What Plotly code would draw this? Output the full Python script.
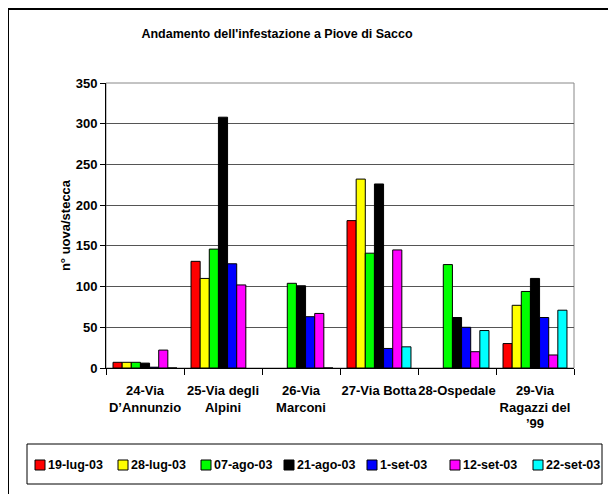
import plotly.graph_objects as go

categories = ["24-Via<br>D’Annunzio", "25-Via degli<br>Alpini", "26-Via<br>Marconi",
              "27-Via Botta", "28-Ospedale", "29-Via<br>Ragazzi del<br>’99"]
series_names = ["19-lug-03", "28-lug-03", "07-ago-03", "21-ago-03", "1-set-03", "12-set-03", "22-set-03"]
v_19lug = [7, 131, None, 181, None, 30]
v_28lug = [7, 110, None, 232, None, 77]
v_07ago = [7, 146, 104, 141, 127, 94]
v_21ago = [6, 308, 101, 226, 62, 110]
v_01set = [1, 128, 63, 24, 50, 62]
v_12set = [22, 102, 67, 145, 20, 16]
v_22set = [0, None, 0, 26, 46, 71]
series_values = [v_19lug, v_28lug, v_07ago, v_21ago, v_01set, v_12set, v_22set]
colors = ["#ff0000", "#ffff00", "#00ff00", "#000000", "#0000ff", "#ff00ff", "#00ffff"]

fig = go.Figure()
for name, vals, col in zip(series_names, series_values, colors):
    fig.add_trace(go.Bar(x=categories, y=vals, name=name, showlegend=False,
                         marker=dict(color=col, line=dict(color="#000000", width=1))))

# the page body adds an 8px offset, so the figure is 8px smaller than the window
W, H = 608, 486
L, R, T, B = 98, 42, 75, 126
pw, ph = W - L - R, H - T - B

def px_x(p):
    return (p - L) / pw

def px_y(p):
    return (H - B - p) / ph

shapes = [dict(type="rect", xref="paper", yref="paper",
               x0=px_x(0), x1=px_x(640), y0=px_y(1), y1=px_y(520),
               line=dict(color="black", width=2), fillcolor="rgba(0,0,0,0)", layer="below"),
          dict(type="rect", xref="paper", yref="paper",
               x0=0, x1=1, y0=0, y1=1,
               line=dict(color="#888888", width=1), fillcolor="rgba(0,0,0,0)", layer="below"),
          # legend box
          dict(type="rect", xref="paper", yref="paper",
               x0=px_x(19), x1=px_x(594), y0=px_y(476), y1=px_y(436),
               line=dict(color="black", width=1), fillcolor="white", layer="above")]
annotations = []
step = 83
for i, (name, col) in enumerate(zip(series_names, colors)):
    sx = 27 + step * i
    shapes.append(dict(type="rect", xref="paper", yref="paper",
                       x0=px_x(sx), x1=px_x(sx + 10), y0=px_y(462), y1=px_y(452),
                       line=dict(color="black", width=1), fillcolor=col, layer="above"))
    annotations.append(dict(text=name, xref="paper", yref="paper",
                            x=px_x(sx + 11), xanchor="left", y=px_y(457), yanchor="middle",
                            showarrow=False, font=dict(size=12.5, weight="bold", color="black")))

fig.update_layout(
    width=W, height=H,
    margin=dict(l=L, r=R, t=T, b=B, autoexpand=False),
    paper_bgcolor="white", plot_bgcolor="white",
    font=dict(family="Liberation Sans, Arial, sans-serif", size=12, color="black", weight="bold"),
    title=dict(text="<b>Andamento dell'infestazione a Piove di Sacco</b>",
               xref="container", x=269 / W, xanchor="center",
               yref="container", y=1 - 26 / H, yanchor="middle",
               font=dict(size=12.5)),
    barmode="group", bargap=0.18, bargroupgap=0.0,
    showlegend=False,
    xaxis=dict(showline=True, linecolor="black", linewidth=1, ticks="outside",
               tickson="boundaries", ticklen=6, tickcolor="black",
               showgrid=False, ticklabelstandoff=10, tickangle=0,
               tickfont=dict(size=13, weight="bold")),
    yaxis=dict(range=[0, 350], dtick=50, showline=True, linecolor="black", linewidth=1,
               ticks="outside", ticklen=5, tickcolor="black",
               showgrid=True, gridcolor="#555555", gridwidth=1,
               zeroline=False,
               title=dict(text="n° uova/stecca", standoff=2,
                          font=dict(size=13, weight="bold")),
               tickfont=dict(size=13, weight="bold")),
    shapes=shapes,
    annotations=annotations,
)

fig.write_html("out.html")
